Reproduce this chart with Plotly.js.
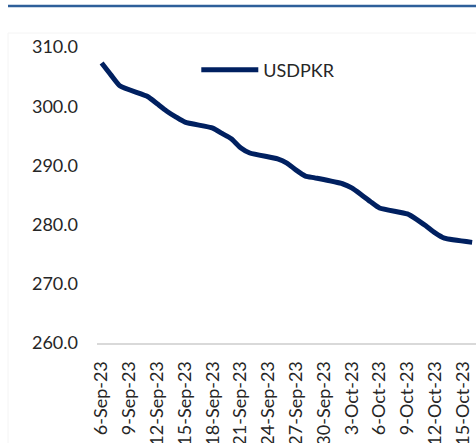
<!DOCTYPE html>
<html>
<head>
<meta charset="utf-8">
<script src="https://cdn.plot.ly/plotly-3.0.1.min.js"></script>
<style>html,body{margin:0;padding:0;background:#fff;}#chart{width:476px;height:443px;}</style>
</head>
<body>
<div id="chart"></div>
<script>
const dates = ['2023-09-06','2023-09-07','2023-09-08','2023-09-11','2023-09-12','2023-09-13','2023-09-14','2023-09-15',
  '2023-09-18','2023-09-19','2023-09-20','2023-09-21','2023-09-22','2023-09-25','2023-09-26','2023-09-27','2023-09-28','2023-09-29',
  '2023-10-02','2023-10-03','2023-10-04','2023-10-05','2023-10-06','2023-10-09','2023-10-10','2023-10-11','2023-10-12','2023-10-13','2023-10-16'];
const usdpkr = [307.3,305.3,303.4,301.6,300.4,299.2,298.2,297.3,
  296.3,295.4,294.5,293.0,292.1,291.1,290.4,289.2,288.2,287.9,
  286.9,286.2,285.1,283.9,282.8,281.8,280.9,279.8,278.6,277.7,277.0];
const tickVals = ['2023-09-06','2023-09-09','2023-09-12','2023-09-15','2023-09-18','2023-09-21','2023-09-24','2023-09-27','2023-09-30',
  '2023-10-03','2023-10-06','2023-10-09','2023-10-12','2023-10-15'];
const tickLabels = ['6-Sep-23','9-Sep-23','12-Sep-23','15-Sep-23','18-Sep-23','21-Sep-23','24-Sep-23','27-Sep-23','30-Sep-23',
  '3-Oct-23','6-Oct-23','9-Oct-23','12-Oct-23','15-Oct-23'];
const yTicks = [260,270,280,290,300,310];

const trace = {
  x: dates, y: usdpkr, type: 'scatter', mode: 'lines', name: 'USDPKR',
  line: {color: '#002060', width: 5, shape: 'spline', smoothing: 0.5}
};
const layout = {
  width: 476, height: 443,
  margin: {l: 97, r: 0, t: 47, b: 100},
  paper_bgcolor: '#fff', plot_bgcolor: '#fff',
  font: {family: 'Lato, sans-serif', size: 18, color: '#262626'},
  showlegend: true,
  legend: {x: 0.262, y: 0.922, xanchor: 'left', yanchor: 'middle', bgcolor: 'rgba(0,0,0,0)',
    itemwidth: 57,
    font: {family: 'Lato, sans-serif', size: 18, color: '#262626'}},
  xaxis: {
    type: 'date', range: ['2023-09-05 12:00', '2023-10-16 10:00'],
    tickmode: 'array', tickvals: tickVals, ticktext: tickLabels, tickangle: -90,
    showgrid: false, zeroline: false, showline: true, linecolor: '#d9d9d9', linewidth: 2,
    ticks: '', fixedrange: true, ticklabelstandoff: 9
  },
  yaxis: {
    range: [260, 310], tickmode: 'array', tickvals: yTicks,
    ticktext: yTicks.map(v => v.toFixed(1)),
    showgrid: false, zeroline: false, showline: false, ticks: '', ticklabelstandoff: 18
  },
  shapes: [
    {type: 'line', xref: 'paper', yref: 'paper', x0: -0.2348, x1: 1.05, y0: 1.1385, y1: 1.1385,
      line: {color: '#2e5f9a', width: 2.5}},
    {type: 'line', xref: 'paper', yref: 'paper', x0: -0.2348, x1: 1.05, y0: 1.047, y1: 1.047,
      line: {color: '#f4f4f4', width: 1}},
    {type: 'line', xref: 'paper', yref: 'paper', x0: -0.2348, x1: -0.2348, y0: -0.4, y1: 1.047,
      line: {color: '#f4f4f4', width: 1}}
  ]
};
Plotly.newPlot('chart', [trace], layout, {displayModeBar: false, staticPlot: true});
</script>
</body>
</html>
